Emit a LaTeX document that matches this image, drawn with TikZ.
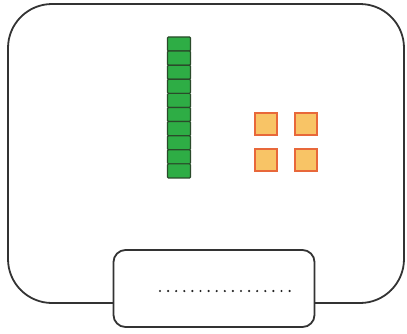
\documentclass[tikz,border=0pt]{standalone}
\definecolor{ledfill}{HTML}{2EAD45}
\definecolor{ledline}{HTML}{2A4A2A}
\definecolor{padfill}{HTML}{F8C466}
\definecolor{padline}{HTML}{E8683A}
\begin{document}
\begin{tikzpicture}[x=1pt,y=-1pt,
  frame/.style={draw=black!80,line width=1.8pt,rounded corners=44pt},
  plug/.style={draw=black!80,line width=1.8pt,rounded corners=12pt,fill=white},
  led/.style={draw=ledline,line width=1.2pt,fill=ledfill,rounded corners=1pt},
  pad/.style={draw=padline,line width=2pt,fill=padfill},
  dot/.style={circle,fill=black!85,inner sep=0pt,minimum size=2.4pt}]
\useasboundingbox (0,0) rectangle (407,333);
\draw[frame] (8,4) rectangle (404,303);
\node[plug,minimum width=201pt,minimum height=77pt,inner sep=0pt] (box) at (214,288.5) {};
\foreach \i in {0,...,9}{
  \node[led,minimum width=23pt,minimum height=14.1pt,inner sep=0pt] (g\i) at (179,{44+\i*14.1}) {};
}
\node[pad,minimum size=22pt,inner sep=0pt] (o1) at (265.5,123.5) {};
\node[pad,minimum size=22pt,inner sep=0pt] (o2) at (305.5,123.5) {};
\node[pad,minimum size=22pt,inner sep=0pt] (o3) at (265.5,160) {};
\node[pad,minimum size=22pt,inner sep=0pt] (o4) at (305.5,160) {};
\foreach \j in {0,...,16}{
  \node[dot] (d\j) at ({160+\j*8.1},291) {};
}
\end{tikzpicture}
\end{document}
